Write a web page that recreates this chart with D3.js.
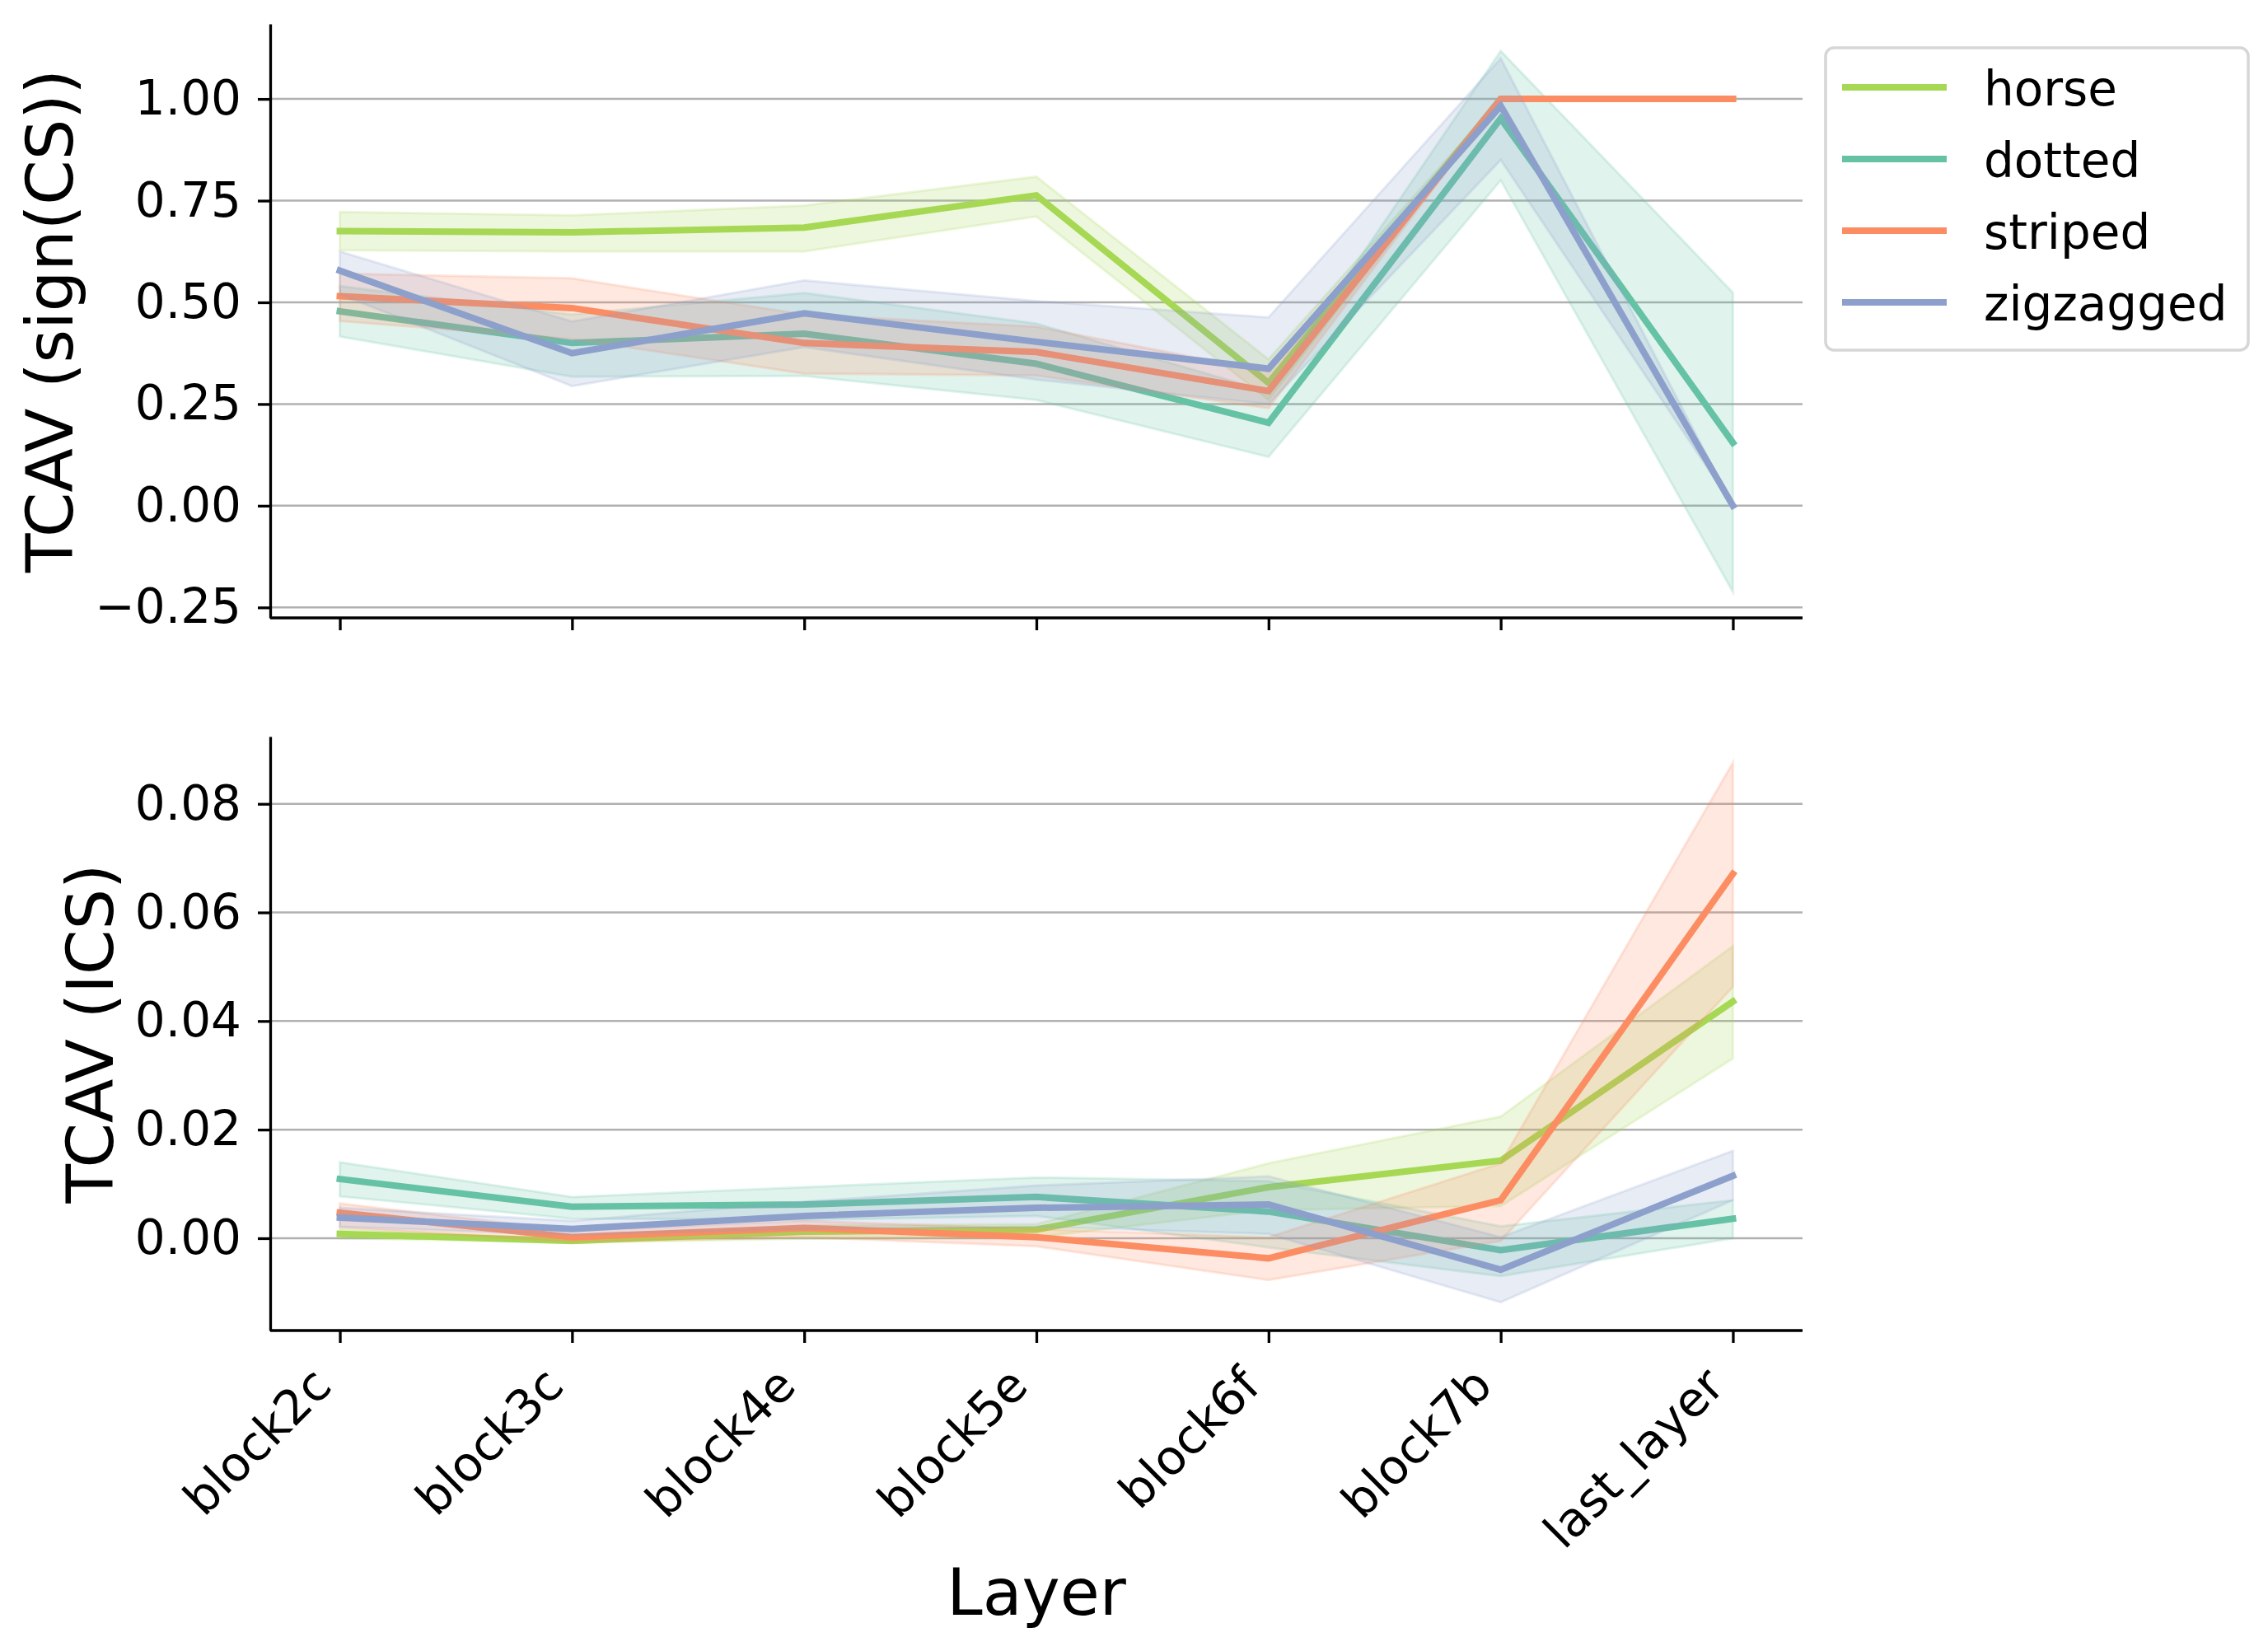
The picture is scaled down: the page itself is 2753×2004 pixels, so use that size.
<!DOCTYPE html>
<html>
<head>
<meta charset="utf-8">
<script src="https://cdn.jsdelivr.net/npm/d3@7"></script>
<style>
  body { margin: 0; background: #fff; }
  text { font-family: "DejaVu Sans", sans-serif; }
</style>
</head>
<body>
<div id="chart"></div>
<script>
// layers on the x axis, concepts as hue
const layers = ["block2c", "block3c", "block4e", "block5e", "block6f", "block7b", "last_layer"];
const concepts = ["horse", "dotted", "striped", "zigzagged"];
const colors = ["#a6d854", "#66c2a5", "#fc8d62", "#8da0cb"];

// TCAV (sign(CS)) : mean and band per concept (rows follow concepts)
const csMean = [
  [0.675, 0.672, 0.684, 0.763, 0.302, 1.0, 1.0],
  [0.478, 0.400, 0.423, 0.349, 0.204, 0.952, 0.155],
  [0.515, 0.486, 0.400, 0.378, 0.282, 1.0, 1.0],
  [0.578, 0.375, 0.473, 0.403, 0.337, 0.983, 0.0]
];
const csLow = [
  [0.628, 0.625, 0.625, 0.711, 0.260, 1.0, 1.0],
  [0.416, 0.317, 0.319, 0.260, 0.120, 0.800, -0.212],
  [0.454, 0.410, 0.325, 0.320, 0.240, 1.0, 1.0],
  [0.520, 0.294, 0.390, 0.310, 0.250, 0.850, 0.0]
];
const csHigh = [
  [0.722, 0.714, 0.738, 0.809, 0.360, 1.0, 1.0],
  [0.540, 0.470, 0.523, 0.448, 0.280, 1.118, 0.524],
  [0.571, 0.559, 0.470, 0.440, 0.330, 1.0, 1.0],
  [0.625, 0.453, 0.554, 0.503, 0.463, 1.100, 0.0]
];

// TCAV (ICS)
const icsMean = [
  [0.0008, -0.0005, 0.0012, 0.0016, 0.0094, 0.0143, 0.0436],
  [0.0109, 0.0058, 0.0062, 0.0076, 0.0049, -0.0022, 0.0036],
  [0.0047, 0.0002, 0.0019, 0.0002, -0.0037, 0.0070, 0.0671],
  [0.0038, 0.0017, 0.0041, 0.0056, 0.0062, -0.0058, 0.0115]
];
const icsLow = [
  [0.0000, -0.0008, -0.0001, 0.0002, 0.0052, 0.0059, 0.0331],
  [0.0077, 0.0036, 0.0034, 0.0041, -0.0017, -0.0070, 0.0000],
  [0.0020, -0.0007, 0.0002, -0.0015, -0.0077, -0.0005, 0.0463],
  [0.0021, 0.0006, 0.0017, 0.0021, 0.0008, -0.0118, 0.0070]
];
const icsHigh = [
  [0.0017, -0.0002, 0.0023, 0.0026, 0.0138, 0.0224, 0.0538],
  [0.0140, 0.0076, 0.0094, 0.0112, 0.0105, 0.0022, 0.0070],
  [0.0064, 0.0014, 0.0032, 0.0017, 0.0002, 0.0138, 0.0876],
  [0.0056, 0.0032, 0.0067, 0.0097, 0.0114, 0.0002, 0.0161]
];

const csTicks = [-0.25, 0, 0.25, 0.5, 0.75, 1.0];
const icsTicks = [0, 0.02, 0.04, 0.06, 0.08];

const W = 2753, H = 2004;
const left = 328, right = 2188;
const tickFont = 58, labelFont = 78;

const svg = d3.select("#chart").append("svg")
  .attr("width", W).attr("height", H)
  .style("background", "#fff");

const x = d3.scalePoint().domain(layers).range([left, right]).padding(0.3);

function panel(top, bottom, domain, ticks, mean, low, high, ylabel, labelX, showX) {
  const y = d3.scaleLinear().domain(domain).range([bottom, top]);
  const g = svg.append("g");

  // grid
  g.append("g").selectAll("line").data(ticks).join("line")
    .attr("x1", left).attr("x2", right)
    .attr("y1", d => y(d)).attr("y2", d => y(d))
    .attr("stroke", "#b0b0b0").attr("stroke-width", 2.5);

  const area = d3.area().x((d, i) => x(layers[i])).y0(d => y(d[0])).y1(d => y(d[1]));
  const line = d3.line().x((d, i) => x(layers[i])).y(d => y(d));

  concepts.forEach((c, k) => {
    const band = low[k].map((v, i) => [v, high[k][i]]);
    g.append("path").datum(band)
      .attr("d", area)
      .attr("fill", colors[k]).attr("fill-opacity", 0.2)
      .attr("stroke", colors[k]).attr("stroke-opacity", 0.2).attr("stroke-width", 3);
    g.append("path").datum(mean[k])
      .attr("d", line)
      .attr("fill", "none").attr("stroke", colors[k])
      .attr("stroke-width", 8).attr("stroke-linejoin", "miter").attr("stroke-linecap", "square");
  });

  // y axis
  const ya = g.append("g").attr("transform", `translate(${left},0)`)
    .call(d3.axisLeft(y).tickValues(ticks).tickFormat(d3.format(".2f"))
      .tickSize(15).tickSizeOuter(0).tickPadding(20));
  ya.select(".domain").attr("stroke-width", 3.3);
  ya.selectAll(".tick line").attr("stroke-width", 3.3);
  ya.selectAll(".tick text").attr("font-size", tickFont).attr("font-family", "DejaVu Sans").attr("fill", "#000");

  // x axis
  const xa = g.append("g").attr("transform", `translate(0,${bottom})`)
    .call(d3.axisBottom(x).tickSize(15).tickSizeOuter(0).tickFormat(""));
  xa.select(".domain").attr("d", `M${left},0H${right}`).attr("stroke-width", 3.3);
  xa.selectAll(".tick line").attr("stroke-width", 3.3);

  if (showX) {
    xa.selectAll(".tick").append("text")
      .attr("transform", "translate(-8,70) rotate(-45)")
      .attr("text-anchor", "end")
      .attr("font-size", tickFont)
      .attr("font-family", "DejaVu Sans")
      .attr("fill", "#000")
      .text(d => d);
  }

  svg.append("text")
    .attr("transform", `translate(${labelX},${(top + bottom) / 2}) rotate(-90)`)
    .attr("text-anchor", "middle")
    .attr("font-size", labelFont)
    .text(ylabel);
}

panel(29, 750, [-0.2757, 1.1845], csTicks, csMean, csLow, csHigh, "TCAV (sign(CS))", 88, false);
panel(894, 1615, [-0.0170, 0.0924], icsTicks, icsMean, icsLow, icsHigh, "TCAV (ICS)", 137, true);

svg.append("text")
  .attr("x", (left + right) / 2).attr("y", 1960)
  .attr("text-anchor", "middle")
  .attr("font-size", labelFont)
  .text("Layer");

// legend
const lg = svg.append("g");
lg.append("rect")
  .attr("x", 2216).attr("y", 58).attr("width", 513).attr("height", 367)
  .attr("rx", 10).attr("fill", "#fff").attr("stroke", "#d6d6d6").attr("stroke-width", 3.5);
const rowY = d3.scalePoint().domain(concepts).range([106, 367]);
concepts.forEach((c, k) => {
  lg.append("line")
    .attr("x1", 2236).attr("x2", 2363)
    .attr("y1", rowY(c)).attr("y2", rowY(c))
    .attr("stroke", colors[k]).attr("stroke-width", 8);
  lg.append("text")
    .attr("x", 2408).attr("y", rowY(c) + 22)
    .attr("font-size", tickFont)
    .text(c);
});
</script>
</body>
</html>
